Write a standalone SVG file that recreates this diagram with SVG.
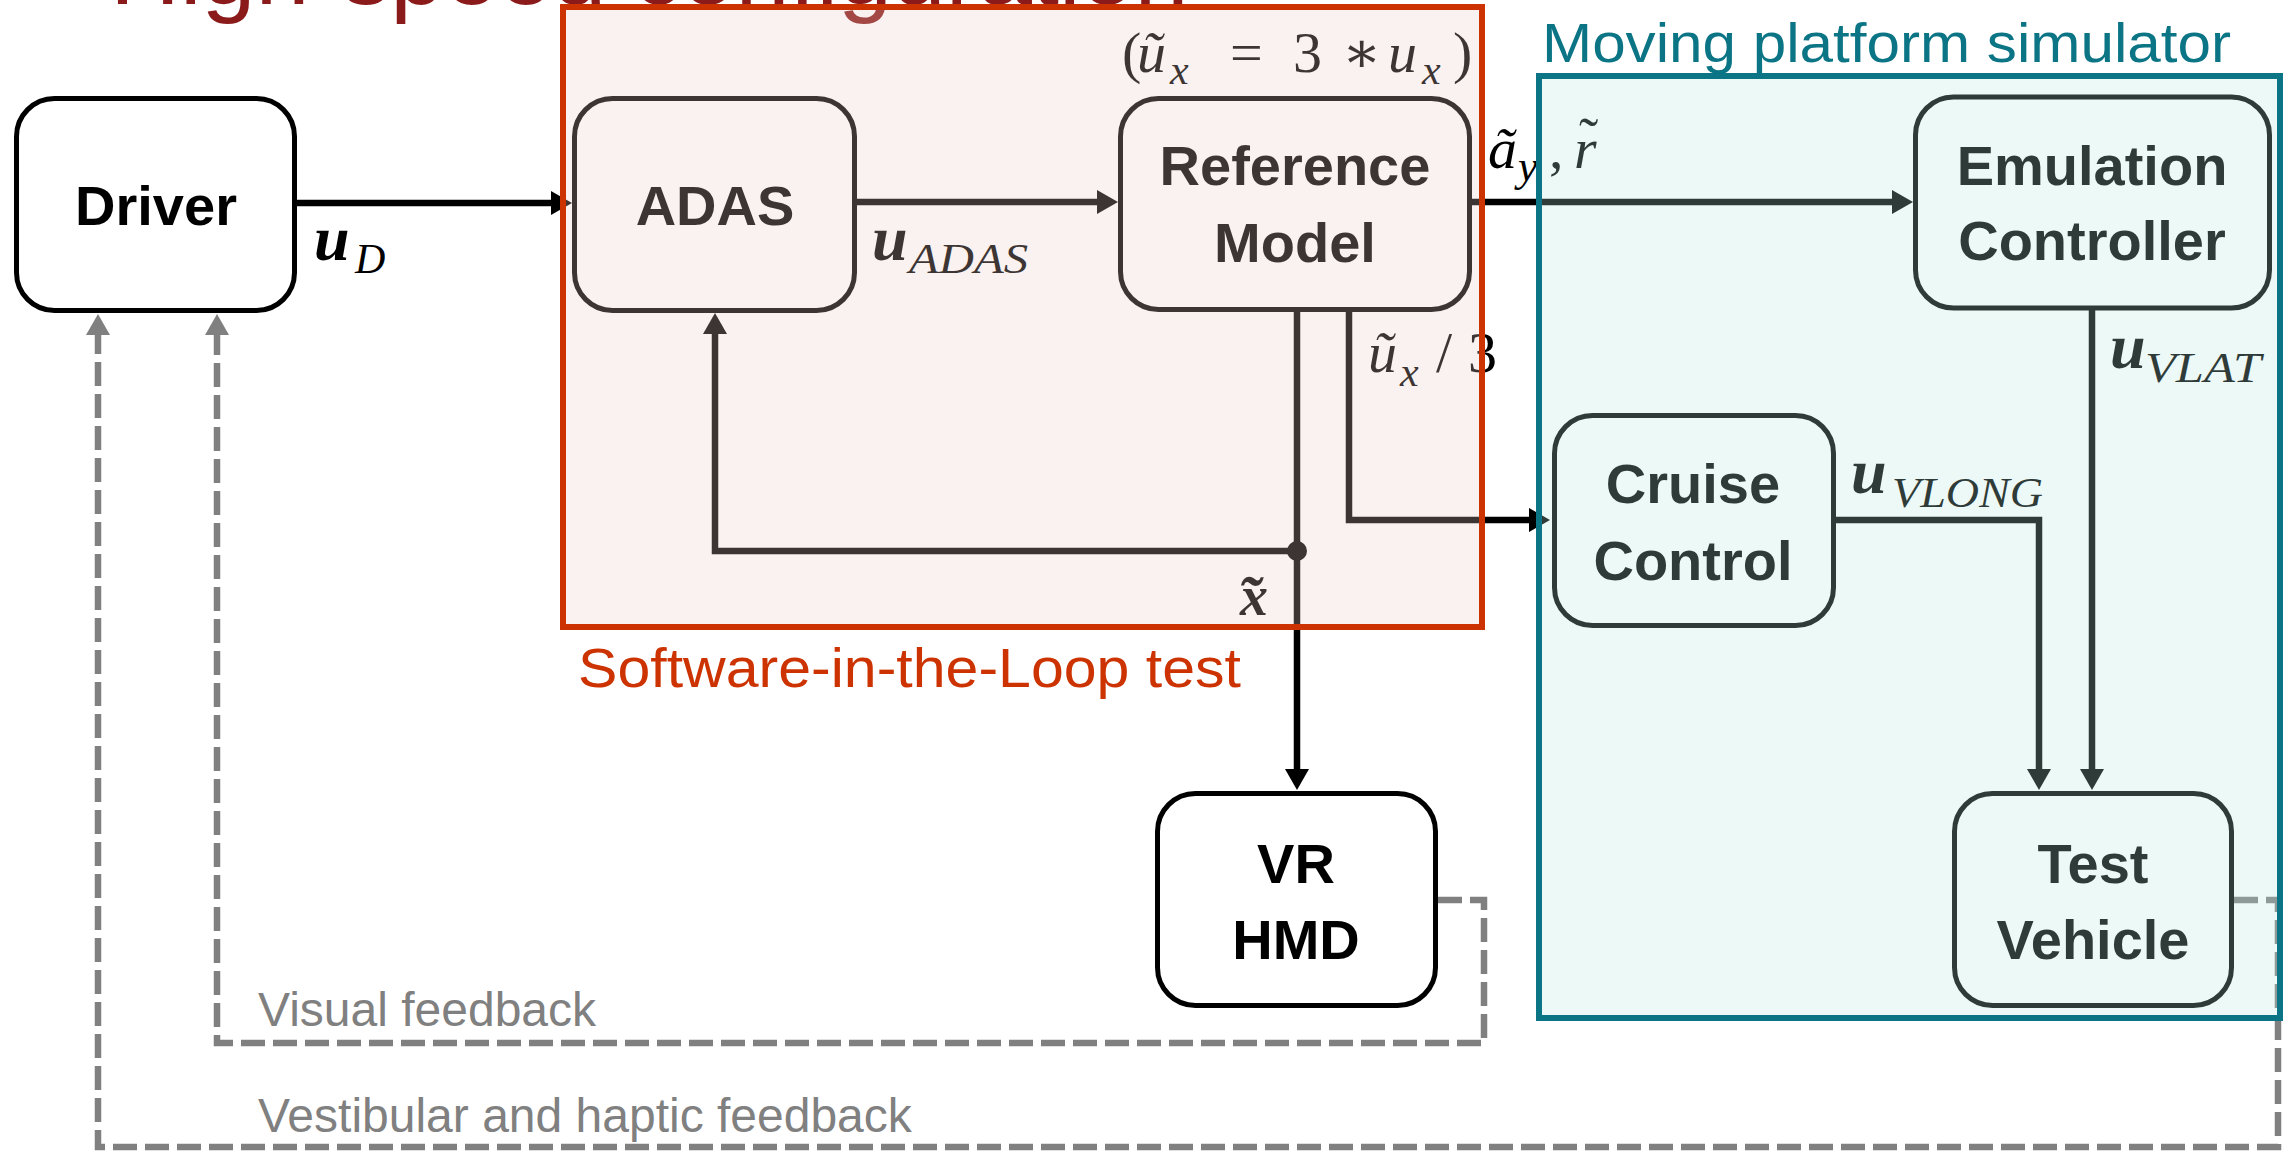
<svg xmlns="http://www.w3.org/2000/svg" width="2295" height="1152" viewBox="0 0 2295 1152">
  <defs>
    <style>
      .box { fill: #ffffff; stroke: #000000; stroke-width: 5; }
      .lbl { font-family: "Liberation Sans", Arial, sans-serif; font-weight: bold; font-size: 56px; text-anchor: middle; fill: #000000; }
      .cap { font-family: "Liberation Sans", Arial, sans-serif; font-size: 55px; }
      .fbt { font-family: "Liberation Sans", Arial, sans-serif; font-size: 48px; fill: #808080; }
      .wire { fill: none; stroke: #000000; stroke-width: 6.5; }
      .fb { fill: none; stroke: #808080; stroke-width: 6.5; stroke-dasharray: 24 8; }
      .m { font-family: "Liberation Serif", "Times New Roman", "DejaVu Serif", serif; font-style: italic; fill: #000000; }
      .up { font-style: normal; }
      .mb { font-family: "Liberation Serif", "Times New Roman", "DejaVu Serif", serif; font-style: italic; font-weight: bold; fill: #000000; }
    </style>
    <marker id="arrow" markerUnits="userSpaceOnUse" viewBox="0 0 21 24" markerWidth="21" markerHeight="24" refX="1" refY="12" orient="auto">
      <path d="M0,0 L21,12 L0,24 z" fill="#000000"/>
    </marker>
    <marker id="arrow-gray" markerUnits="userSpaceOnUse" viewBox="0 0 21 24" markerWidth="21" markerHeight="24" refX="1" refY="12" orient="auto">
      <path d="M0,0 L21,12 L0,24 z" fill="#808080"/>
    </marker>
  </defs>

  <rect width="2295" height="1152" fill="#ffffff"/>

  <!-- slide title, running off the top edge -->
  <text x="110" y="4" font-family="'Liberation Sans', Arial, sans-serif" font-size="97" fill="#8B1A1A">High-speed configuration</text>

  <!-- signal lines and feedback paths -->
  <g id="connectors">
    <path class="wire" d="M297,203 H552" marker-end="url(#arrow)"/>
    <path class="wire" d="M857,202 H1098" marker-end="url(#arrow)"/>
    <path class="wire" d="M1472,202 H1893" marker-end="url(#arrow)"/>
    <path class="wire" d="M1297,310 V770" marker-end="url(#arrow)"/>
    <path class="wire" d="M1297,551 H715 V333" marker-end="url(#arrow)"/>
    <path class="wire" d="M1349,310 V520 H1530" marker-end="url(#arrow)"/>
    <path class="wire" d="M1834,520 H2039 V770" marker-end="url(#arrow)"/>
    <path class="wire" d="M2092,309 V770" marker-end="url(#arrow)"/>
    <circle cx="1297" cy="551" r="10" fill="#000000"/>
    <path class="fb" d="M1438,900 H1484 V1043 H217 V334" marker-end="url(#arrow-gray)"/>
    <path class="fb" d="M2234,900 H2278 V1147 H98 V334" marker-end="url(#arrow-gray)"/>
  </g>

  <!-- signal labels -->
  <g id="signal-labels">
    <text class="mb" x="314" y="260" font-size="64">u</text>
    <text class="m" x="355" y="273" font-size="42">D</text>

    <text class="mb" x="872" y="260" font-size="64">u</text>
    <text class="m" x="909" y="273" font-size="42" textLength="119" lengthAdjust="spacingAndGlyphs">ADAS</text>

    <text class="m" font-size="58">
      <tspan class="up" x="1122" y="72">(</tspan>
      <tspan x="1137" y="72">ũ</tspan>
      <tspan x="1170" y="84" font-size="42">x</tspan>
      <tspan class="up" x="1230" y="72">=</tspan>
      <tspan class="up" x="1293" y="72">3</tspan>
      <tspan class="up" x="1342" y="72">∗</tspan>
      <tspan x="1388" y="72">u</tspan>
      <tspan x="1422" y="84" font-size="42">x</tspan>
      <tspan class="up" x="1453" y="72">)</tspan>
    </text>

    <text class="m" font-size="58">
      <tspan x="1488" y="168">ã</tspan>
      <tspan x="1518" y="181" font-size="44">y</tspan>
      <tspan class="up" x="1549" y="168">,</tspan>
      <tspan x="1574" y="168">r</tspan>
      <tspan class="up" x="1579" y="157">˜</tspan>
    </text>

    <text class="m" font-size="58">
      <tspan x="1368" y="372">ũ</tspan>
      <tspan x="1400" y="386" font-size="42">x</tspan>
      <tspan class="up" x="1436" y="372">/</tspan>
      <tspan class="up" x="1468" y="372">3</tspan>
    </text>

    <text class="mb" x="1240" y="615" font-size="56">x</text>
    <text class="mb" x="1238" y="620" font-size="64">˜</text>

    <text class="mb" x="1851" y="493" font-size="64">u</text>
    <text class="m" x="1892" y="507" font-size="42" textLength="151" lengthAdjust="spacingAndGlyphs">VLONG</text>

    <text class="mb" x="2110" y="368" font-size="64">u</text>
    <text class="m" x="2145" y="382" font-size="42" textLength="116" lengthAdjust="spacingAndGlyphs">VLAT</text>
  </g>

  <!-- blocks -->
  <g id="driver">
    <rect class="box" x="16.5" y="98.5" width="278" height="212" rx="38"/>
    <text class="lbl" x="156" y="225">Driver</text>
  </g>
  <g id="adas">
    <rect class="box" x="574.5" y="98.5" width="280" height="212" rx="38"/>
    <text class="lbl" x="715" y="225">ADAS</text>
  </g>
  <g id="reference-model">
    <rect class="box" x="1120.5" y="98.5" width="349" height="211" rx="38"/>
    <text class="lbl" x="1295" y="185">Reference</text>
    <text class="lbl" x="1295" y="262">Model</text>
  </g>
  <g id="emulation-controller">
    <rect class="box" x="1915.5" y="97" width="354" height="211" rx="38"/>
    <text class="lbl" x="2092" y="185">Emulation</text>
    <text class="lbl" x="2092" y="260">Controller</text>
  </g>
  <g id="cruise-control">
    <rect class="box" x="1554.5" y="415.5" width="279" height="210" rx="38"/>
    <text class="lbl" x="1693" y="503">Cruise</text>
    <text class="lbl" x="1693" y="580">Control</text>
  </g>
  <g id="vr-hmd">
    <rect class="box" x="1157.5" y="793.5" width="278" height="212" rx="38"/>
    <text class="lbl" x="1296" y="883">VR</text>
    <text class="lbl" x="1296" y="959">HMD</text>
  </g>
  <g id="test-vehicle">
    <rect class="box" x="1954.5" y="793.5" width="277" height="212" rx="38"/>
    <text class="lbl" x="2093" y="883">Test</text>
    <text class="lbl" x="2093" y="959">Vehicle</text>
  </g>

  <!-- translucent group frames laid over their contents -->
  <g id="sil-test">
    <rect x="563" y="7" width="919" height="620" fill="rgb(235,204,196)" fill-opacity="0.26" stroke="#CC3300" stroke-width="6"/>
    <text class="cap" x="578" y="687" fill="#CC3300" textLength="663" lengthAdjust="spacingAndGlyphs">Software-in-the-Loop test</text>
  </g>
  <g id="platform-simulator">
    <rect x="1539" y="76" width="741" height="942" fill="rgb(184,231,220)" fill-opacity="0.255" stroke="#0B7585" stroke-width="6"/>
    <text class="cap" x="1542" y="62" fill="#0B7585" textLength="689" lengthAdjust="spacingAndGlyphs">Moving platform simulator</text>
  </g>

  <!-- feedback captions -->
  <g id="feedback-labels">
    <text class="fbt" x="258" y="1026">Visual feedback</text>
    <text class="fbt" x="258" y="1132">Vestibular and haptic feedback</text>
  </g>
</svg>
